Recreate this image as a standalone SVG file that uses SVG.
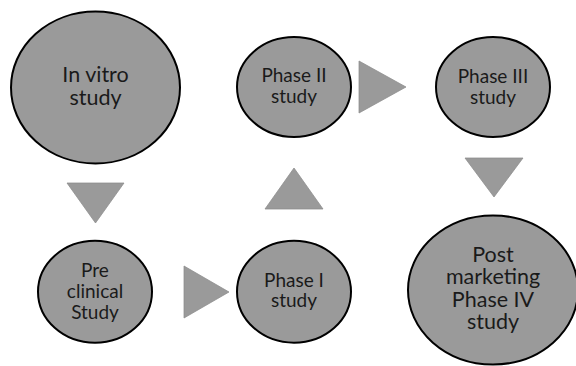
<svg xmlns="http://www.w3.org/2000/svg" width="576" height="366" viewBox="0 0 576 366">
<style>
.node ellipse{fill:#9a9a9a;stroke:#000;stroke-width:2}
.arrow{fill:#9a9a9a;stroke:#8c8c8c;stroke-width:0.75}
text{font-family:Lato,"Open Sans",sans-serif;fill:#1a1a1a;text-anchor:middle}
.big{font-size:21.5px}
.mid{font-size:19px}
</style>
<rect width="576" height="366" fill="#fff"/>
<g id="connectors">
<polygon class="arrow" points="67,183 124,183 95.5,223"/>
<polygon class="arrow" points="184,266 184,318 229,292"/>
<polygon class="arrow" points="265,209 323,209 294,168"/>
<polygon class="arrow" points="359,61 359,113 406,87"/>
<polygon class="arrow" points="465,158 523,158 494,197"/>
</g>
<g id="invitro" class="node">
<ellipse cx="95.5" cy="87.5" rx="84.5" ry="76"/>
<text class="big" x="95.5" y="82">In vitro</text>
<text class="big" x="95.5" y="105">study</text>
</g>
<g id="preclinical" class="node">
<ellipse cx="95" cy="291.7" rx="57" ry="51"/>
<text class="mid" x="95" y="276.7">Pre</text>
<text class="mid" x="95" y="297.5">clinical</text>
<text class="mid" x="95" y="319">Study</text>
</g>
<g id="phase1" class="node">
<ellipse cx="294" cy="291.7" rx="57" ry="51"/>
<text class="mid" x="294" y="286.7">Phase I</text>
<text class="mid" x="294" y="307.3">study</text>
</g>
<g id="phase2" class="node">
<ellipse cx="294" cy="87" rx="57" ry="50"/>
<text class="mid" x="294" y="82">Phase II</text>
<text class="mid" x="294" y="103">study</text>
</g>
<g id="phase3" class="node">
<ellipse cx="493" cy="87" rx="57" ry="50"/>
<text class="mid" x="493" y="83">Phase III</text>
<text class="mid" x="493" y="103.5">study</text>
</g>
<g id="phase4" class="node">
<ellipse cx="493" cy="290" rx="85" ry="74.5"/>
<text class="big" x="493" y="261.7">Post</text>
<text class="big" x="493" y="283.5">marketing</text>
<text class="big" x="493" y="307">Phase IV</text>
<text class="big" x="493" y="328.5">study</text>
</g>
</svg>
